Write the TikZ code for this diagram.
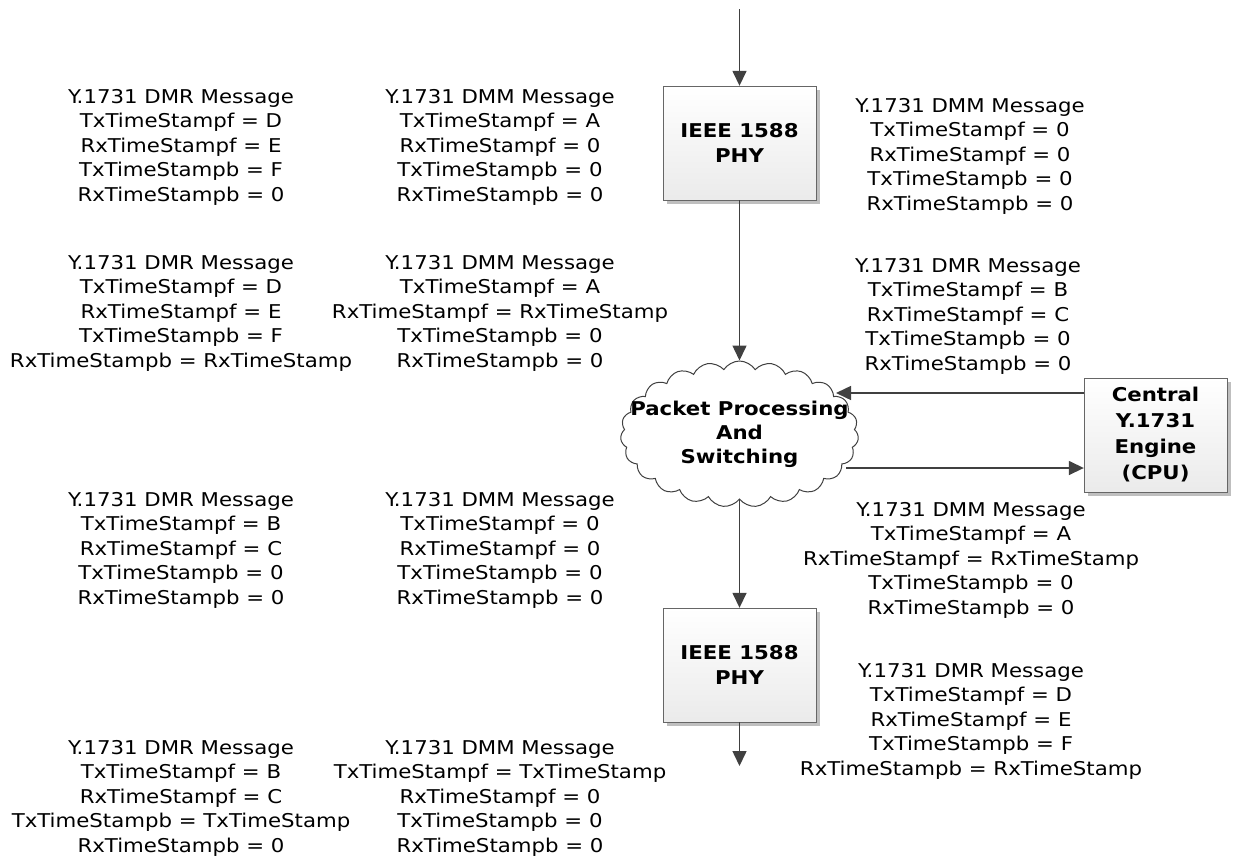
\documentclass[tikz,border=0pt]{standalone}
\usepackage{fontspec}
\setmainfont{DejaVu Sans}[FakeStretch=1.12]
\usepackage{tikz}
\usetikzlibrary{arrows.meta, positioning, shapes.symbols, shadows}

\begin{document}
\begin{tikzpicture}[x=1pt, y=-1pt,
				every node/.style={align=center, font=\fontsize{19}{24.5}\selectfont},
				phybox/.style={draw=black!60, top color=white, bottom color=black!8, inner sep=0pt,
					minimum width=153pt, minimum height=114pt, font=\fontsize{19}{25}\selectfont\bfseries,
					drop shadow={shadow xshift=4pt, shadow yshift=-4pt, fill=black!25, opacity=1}},
				arr/.style={draw=black!75, line width=1.5pt, -{Triangle[length=15pt, width=14pt]}}
				]
				\useasboundingbox (0,0) rectangle (1233,865);
				% main path: PHY -> switching -> PHY
				\node[phybox] (phy1) at (739.5,143) {IEEE 1588\\PHY};
				\node[cloud, cloud ignores aspect, cloud puffs=23, cloud puff arc=115, draw=black!75, line width=1pt, fill=white,
					minimum width=238pt, minimum height=146pt, inner sep=0pt,
					label={[font=\fontsize{19}{24}\selectfont\bfseries]center:Packet Processing\\And\\Switching}] (cloud) at (739.5,434) {};
				\node[phybox] (phy2) at (739.5,665) {IEEE 1588\\PHY};
				\node[phybox, minimum width=143pt, font=\fontsize{19}{26}\selectfont\bfseries] (engine) at (1155.5,435) {Central\\Y.1731\\Engine\\(CPU)};
				\coordinate (src) at (739.5,9);
				\coordinate (sink) at (739.5,766);
				\coordinate (cin) at (836,393);
				\coordinate (cout) at (846,468);
				\draw[arr] (src) -- (phy1.north);
				\draw[arr] (phy1.south) -- (cloud.north);
				\draw[arr] (engine.west |- cin) -- (cin);
				\draw[arr] (cout) -- (engine.west |- cout);
				\draw[arr] (cloud.south) -- (phy2.north);
				\draw[arr] (phy2.south) -- (sink);
				% messages
				\node (dmrA) at (181,147) {Y.1731 DMR Message\\TxTimeStampf = D\\RxTimeStampf = E\\TxTimeStampb = F\\RxTimeStampb = 0};
				\node (dmmA) at (500,147) {Y.1731 DMM Message\\TxTimeStampf = A\\RxTimeStampf = 0\\TxTimeStampb = 0\\RxTimeStampb = 0};
				\node (dmmIn) at (970,156) {Y.1731 DMM Message\\TxTimeStampf = 0\\RxTimeStampf = 0\\TxTimeStampb = 0\\RxTimeStampb = 0};
				\node (dmrB) at (181,313) {Y.1731 DMR Message\\TxTimeStampf = D\\RxTimeStampf = E\\TxTimeStampb = F\\RxTimeStampb = RxTimeStamp};
				\node (dmmB) at (500,313) {Y.1731 DMM Message\\TxTimeStampf = A\\RxTimeStampf = RxTimeStamp\\TxTimeStampb = 0\\RxTimeStampb = 0};
				\node (dmrCpu) at (968,316) {Y.1731 DMR Message\\TxTimeStampf = B\\RxTimeStampf = C\\TxTimeStampb = 0\\RxTimeStampb = 0};
				\node (dmrC) at (181,550) {Y.1731 DMR Message\\TxTimeStampf = B\\RxTimeStampf = C\\TxTimeStampb = 0\\RxTimeStampb = 0};
				\node (dmmC) at (500,550) {Y.1731 DMM Message\\TxTimeStampf = 0\\RxTimeStampf = 0\\TxTimeStampb = 0\\RxTimeStampb = 0};
				\node (dmmCpu) at (971,560) {Y.1731 DMM Message\\TxTimeStampf = A\\RxTimeStampf = RxTimeStamp\\TxTimeStampb = 0\\RxTimeStampb = 0};
				\node (dmrOut) at (971,721) {Y.1731 DMR Message\\TxTimeStampf = D\\RxTimeStampf = E\\TxTimeStampb = F\\RxTimeStampb = RxTimeStamp};
				\node (dmrD) at (181,798) {Y.1731 DMR Message\\TxTimeStampf = B\\RxTimeStampf = C\\TxTimeStampb = TxTimeStamp\\RxTimeStampb = 0};
				\node (dmmD) at (500,798) {Y.1731 DMM Message\\TxTimeStampf = TxTimeStamp\\RxTimeStampf = 0\\TxTimeStampb = 0\\RxTimeStampb = 0};
			\end{tikzpicture}
\end{document}
